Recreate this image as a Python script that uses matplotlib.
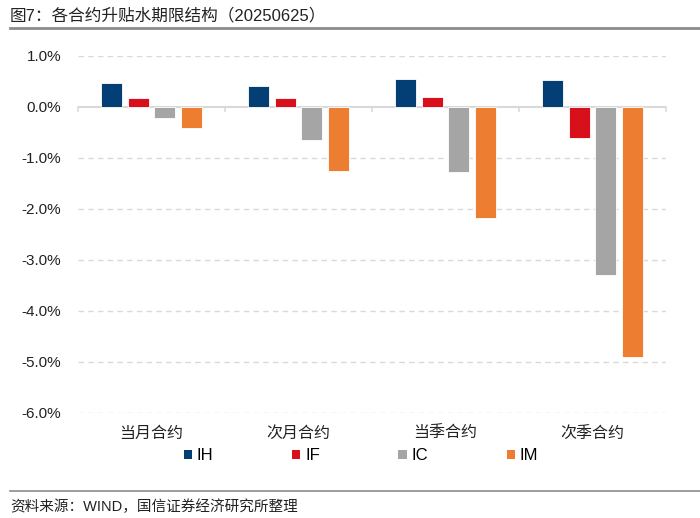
import numpy as np
import matplotlib.pyplot as plt
from matplotlib.lines import Line2D
from matplotlib.patches import Patch

plt.rcParams['font.family'] = ['Liberation Sans', 'Noto Sans CJK SC', 'DejaVu Sans']

# data (%)
categories = ["当月合约", "次月合约", "当季合约", "次季合约"]
series = ["IH", "IF", "IC", "IM"]
ih = [0.47, 0.41, 0.54, 0.53]
if_ = [0.17, 0.17, 0.19, -0.61]
ic = [-0.23, -0.66, -1.28, -3.30]
im = [-0.42, -1.25, -2.18, -4.90]
colors = ["#033F74", "#D7101C", "#A5A5A5", "#ED7D31"]
yticks = [1, 0, -1, -2, -3, -4, -5, -6]

fig = plt.figure(figsize=(7, 5.18), dpi=100)
ax = fig.add_axes([78 / 700, 1 - 413 / 518, 588 / 700, (413 - 55.7) / 518])

x = np.arange(len(categories))
step = 0.18
width = 0.143
for i, (vals, c) in enumerate(zip([ih, if_, ic, im], colors)):
    ax.bar(x + (i - 1.5) * step, vals, width, color=c, edgecolor="white",
           linewidth=0.6, zorder=3, label=series[i])

ax.set_xlim(-0.5, len(categories) - 0.5)
ax.set_ylim(-6, 1)
ax.set_yticks(yticks)
ax.set_yticklabels([f"{v:.1f}%" for v in yticks], fontsize=11, color="#222222")
for v in yticks:
    if v != 0:
        ax.axhline(v, color="#D9D9D9", lw=1, ls=(0, (4, 3)), zorder=1)
ax.axhline(0, color="#D9D9D9", lw=1.5, zorder=2)
for b in np.arange(len(categories) + 1) - 0.5:
    ax.plot([b, b], [0, -0.09], color="#D9D9D9", lw=1.2, zorder=2, clip_on=False)

ax.set_xticks(x)
ax.set_xticklabels(categories, fontsize=11.5, color="#222222")
ax.tick_params(axis="x", length=0, pad=9)
ax.tick_params(axis="y", length=0, pad=12)
for s in ax.spines.values():
    s.set_visible(False)

handles = [Patch(facecolor=c, edgecolor="none") for c in colors]
fig.legend(handles, series, loc="center", bbox_to_anchor=(361 / 700, 1 - 456 / 518),
           ncol=4, frameon=False, fontsize=12, handlelength=0.5, handleheight=0.5,
           handletextpad=0.3, columnspacing=4.7)

fig.text(10 / 700, 1 - 15 / 518, "图7：各合约升贴水期限结构（20250625）", fontsize=12,
         color="#222222", va="center", ha="left")
fig.add_artist(Line2D([10 / 700, 1], [1 - 28 / 518] * 2, color="#8C8C8C", lw=2))
fig.add_artist(Line2D([10 / 700, 1], [1 - 491 / 518] * 2, color="#8C8C8C", lw=1.2))
fig.text(10 / 700, 1 - 507 / 518, "资料来源：WIND，国信证券经济研究所整理", fontsize=10.5,
         color="#222222", va="center", ha="left")

fig.savefig("out.png", dpi=100)
